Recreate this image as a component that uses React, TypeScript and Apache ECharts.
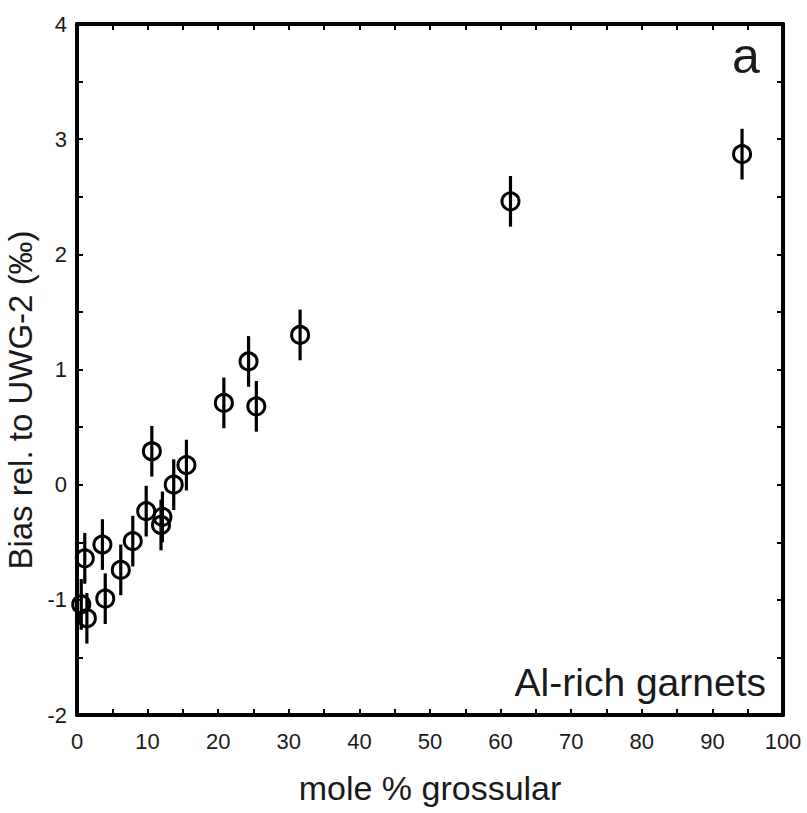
import React, { useEffect, useRef } from "react";
import * as echarts from "echarts";

// mole % grossular
const grossular = [0.6, 1.4, 1.1, 3.6, 4.0, 6.2, 7.9, 9.8, 10.6, 11.9, 12.1, 13.7, 15.5, 20.8, 24.3, 25.4, 31.6, 61.4, 94.2];
// bias rel. to UWG-2 (‰)
const bias = [-1.04, -1.16, -0.64, -0.52, -0.99, -0.74, -0.49, -0.23, 0.29, -0.35, -0.28, 0.0, 0.17, 0.71, 1.07, 0.68, 1.30, 2.46, 2.87];
// 1-sigma error (‰)
const err = [0.22, 0.22, 0.22, 0.22, 0.22, 0.22, 0.22, 0.22, 0.22, 0.22, 0.22, 0.22, 0.22, 0.22, 0.22, 0.22, 0.22, 0.22, 0.22];

const xTitle = "mole % grossular";
const yTitle = "Bias rel. to UWG-2 (‰)";
const panelLabel = "a";
const groupLabel = "Al-rich garnets";

const FONT = "'Liberation Sans', Arial, Helvetica, sans-serif";
const INK = "#1a1a1a";

export default function App() {
  const ref = useRef<HTMLDivElement>(null);
  useEffect(() => {
    if (!ref.current) return;
    const chart = echarts.init(ref.current, null, { renderer: "svg" });
    const points = grossular.map((x, i) => [x, bias[i]]);
    const bars = grossular.map((x, i) => [x, bias[i] - err[i], bias[i] + err[i]]);
    const mkLine = () => ({ show: true, onZero: false, lineStyle: { color: "#000", width: 4 } });
    const mkTick = () => ({ show: true, inside: true, length: 6, lineStyle: { color: "#000", width: 2 } });
    const xLabel = {
      show: true,
      margin: 15,
      fontSize: 22,
      fontFamily: FONT,
      color: INK,
      formatter: (v: number) => (Math.round(v) % 10 === 0 ? String(v) : ""),
    };
    const yLabel = {
      show: true,
      margin: 10,
      fontSize: 22,
      fontFamily: FONT,
      color: INK,
      formatter: (v: number) => (Number.isInteger(v) ? String(v) : ""),
    };
    chart.setOption({
      animation: false,
      backgroundColor: "#fff",
      grid: { left: 77, right: 24, top: 24, bottom: 98, containLabel: false, outerBoundsMode: "none" },
      xAxis: [
        {
          type: "value", position: "bottom", min: 0, max: 100, interval: 5,
          axisLine: mkLine(), axisTick: mkTick(), axisLabel: xLabel, splitLine: { show: false },
        },
        {
          type: "value", position: "top", min: 0, max: 100, interval: 5,
          axisLine: mkLine(), axisTick: mkTick(), axisLabel: { show: false }, splitLine: { show: false },
        },
      ],
      yAxis: [
        {
          type: "value", position: "left", min: -2, max: 4, interval: 0.5,
          axisLine: mkLine(), axisTick: mkTick(), axisLabel: yLabel, splitLine: { show: false },
        },
        {
          type: "value", position: "right", min: -2, max: 4, interval: 0.5,
          axisLine: mkLine(), axisTick: mkTick(), axisLabel: { show: false }, splitLine: { show: false },
        },
      ],
      graphic: [
        {
          type: "text", x: 20, y: 400, rotation: Math.PI / 2,
          style: { text: yTitle, font: `33px ${FONT}`, fill: INK, textAlign: "center", textVerticalAlign: "middle" },
        },
        {
          type: "text", x: 430, y: 788,
          style: { text: xTitle, font: `34px ${FONT}`, fill: INK, textAlign: "center", textVerticalAlign: "middle" },
        },
        {
          type: "text", x: 746, y: 56,
          style: { text: panelLabel, font: `50px ${FONT}`, fill: INK, textAlign: "center", textVerticalAlign: "middle" },
        },
        {
          type: "text", x: 766, y: 682,
          style: { text: groupLabel, font: `39px ${FONT}`, fill: INK, textAlign: "right", textVerticalAlign: "middle" },
        },
      ],
      series: [
        {
          type: "custom",
          xAxisIndex: 0, yAxisIndex: 0,
          data: bars,
          clip: false,
          renderItem: (params: any, api: any) => {
            const p1 = api.coord([api.value(0), api.value(1)]);
            const p2 = api.coord([api.value(0), api.value(2)]);
            return {
              type: "line",
              shape: { x1: p1[0], y1: p1[1], x2: p2[0], y2: p2[1] },
              style: { stroke: "#000", lineWidth: 3.2 },
            };
          },
        },
        {
          type: "scatter",
          xAxisIndex: 0, yAxisIndex: 0,
          data: points,
          symbol: "circle",
          symbolSize: 17,
          itemStyle: { color: "rgba(0,0,0,0)", borderColor: "#000", borderWidth: 3, opacity: 1 },
        },
      ],
    });
    return () => chart.dispose();
  }, []);
  return <div ref={ref} style={{ position: "absolute", left: 0, top: 0, width: 807, height: 813 }} />;
}
